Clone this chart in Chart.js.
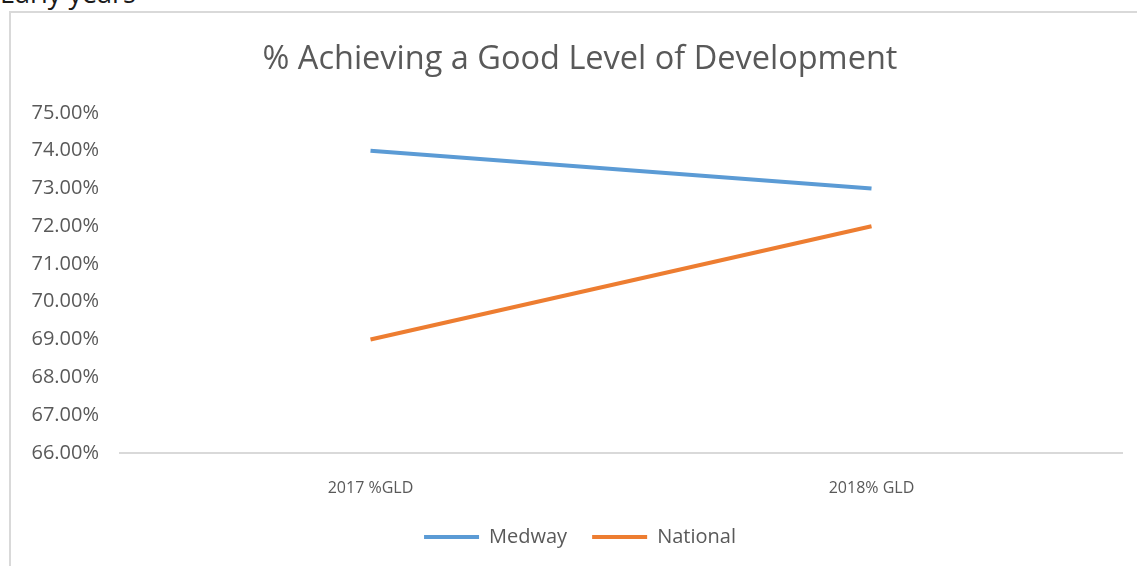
<!DOCTYPE html>
<html>
<head>
<meta charset="utf-8">
<script src="https://cdn.jsdelivr.net/npm/chart.js@4/dist/chart.umd.min.js"></script>
<style>
  html, body { margin: 0; padding: 0; background: #fff; overflow: hidden; }
  body { width: 1137px; height: 566px; position: relative; }
  #heading {
    position: absolute; left: 0; top: -26px;
    font-family: "Open Sans", sans-serif; font-size: 27px; color: #1a1a1a;
  }
  #frame {
    position: absolute; left: 9px; top: 11px; width: 1200px; height: 600px;
    border-top: 2px solid #d9d9d9; border-left: 2px solid #d9d9d9;
  }
  #wrap { position: absolute; left: 0; top: 0; width: 1137px; height: 566px; }
</style>
</head>
<body>
<div id="heading">Early years</div>
<div id="frame"></div>
<div id="wrap"><canvas id="gldChart"></canvas></div>
<script>
// chart data
const categories = ['2017 %GLD', '2018% GLD'];
const medway = [74, 73];
const national = [69, 72];
const yMin = 66;
const yMax = 75;

const textGrey = '#595959';

function initGldChart() {
    const ctx = document.getElementById('gldChart');
    if (!ctx) return;

    new Chart(ctx, {
        type: 'line',
        data: {
            labels: categories,
            datasets: [
                { label: 'Medway', data: medway, borderColor: '#5B9BD5', backgroundColor: '#5B9BD5', borderWidth: 4, pointRadius: 0, tension: 0 },
                { label: 'National', data: national, borderColor: '#ED7D31', backgroundColor: '#ED7D31', borderWidth: 4, pointRadius: 0, tension: 0 }
            ]
        },
        options: {
            responsive: true,
            maintainAspectRatio: false,
            animation: false,
            // negative right padding + empty right axis: title/legend centre sits right of the page centre, like the original
            layout: { padding: { left: 0, right: -23, top: 0, bottom: 9 } },
            plugins: {
                title: {
                    display: true,
                    text: '% Achieving a Good Level of Development',
                    color: textGrey,
                    font: { family: 'Open Sans', size: 32.5, weight: 'normal' },
                    padding: { top: 40, bottom: 34 }
                },
                legend: {
                    position: 'bottom',
                    labels: {
                        color: textGrey,
                        font: { family: 'Open Sans', size: 20 },
                        usePointStyle: true,
                        pointStyle: 'line',
                        pointStyleWidth: 55,
                        padding: 25
                    }
                },
                tooltip: { enabled: false }
            },
            scales: {
                x: {
                    offset: true,
                    grid: { display: false, drawTicks: false },
                    border: { display: true, color: '#d9d9d9', width: 2 },
                    ticks: { color: textGrey, font: { family: 'Open Sans', size: 16 }, padding: 26 },
                    afterFit: s => { s.height = s.height - 22; }
                },
                y: {
                    min: yMin,
                    max: yMax,
                    grid: { display: false, drawTicks: false },
                    border: { display: false },
                    ticks: {
                        stepSize: 1,
                        color: textGrey,
                        font: { family: 'Open Sans', size: 20 },
                        padding: 21,
                        callback: v => v.toFixed(2) + '%'
                    },
                    afterFit: s => { s.width = 120; }
                },
                yRight: {
                    position: 'right',
                    min: yMin,
                    max: yMax,
                    grid: { display: false, drawTicks: false },
                    border: { display: false },
                    ticks: { display: false },
                    afterFit: s => { s.width = 38; }
                }
            }
        }
    });
}

initGldChart();
</script>
</body>
</html>
